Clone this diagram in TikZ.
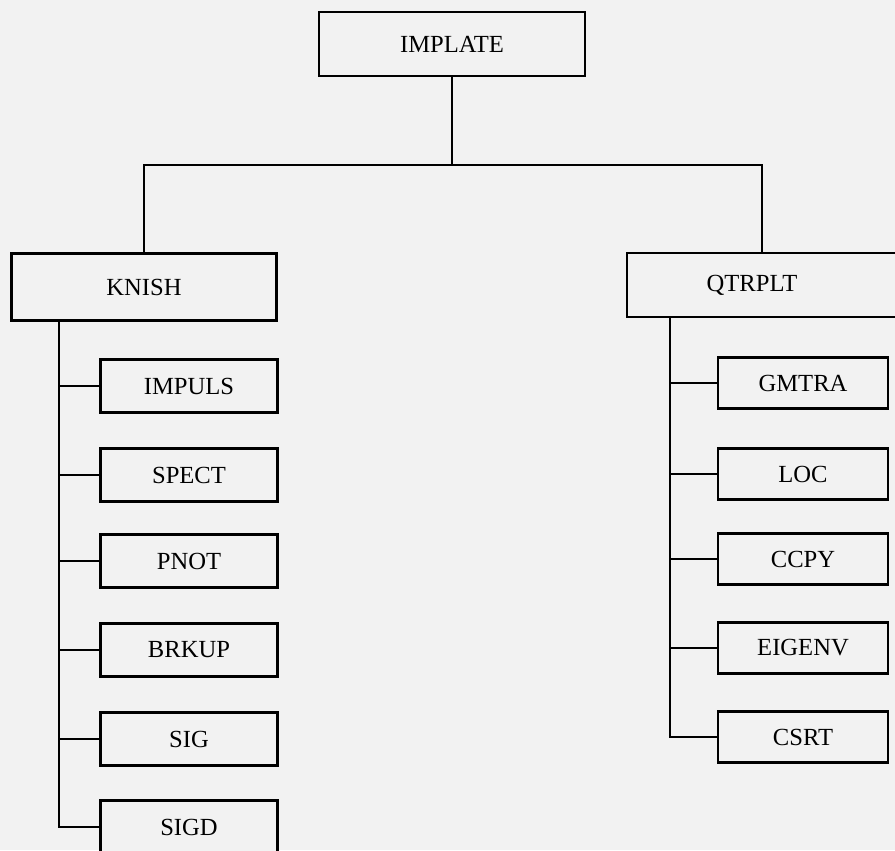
\documentclass[tikz,border=0pt]{standalone}
\usepackage{fontspec}
\setmainfont{Liberation Serif}
\usepackage{tikz}
\usetikzlibrary{positioning, calc}

\begin{document}
\begin{tikzpicture}[
    x=0.2mm, y=-0.2mm,
    font=\fontsize{14}{16}\selectfont,
    box/.style={draw, line width=1.6pt, fill=black!5, inner sep=0pt},
    topbox/.style={box, minimum width=5.32cm, minimum height=1.28cm},
    midbox/.style={box, minimum width=5.3cm, minimum height=1.34cm},
    leafbox/.style={box, minimum width=3.54cm, minimum height=1.06cm},
    rleafbox/.style={box, minimum width=3.4cm, minimum height=1.02cm},
    link/.style={line width=1.6pt}
]
% page
\fill[black!5] (0,0) rectangle (895,850);
\useasboundingbox (0,0) rectangle (895,850);

% top of the tree
\node[topbox] (implate) at (452,44) {IMPLATE};
\coordinate (split) at (452,165);

% left branch
\node[midbox] (knish) at (144,287) {KNISH};
\node[leafbox] (impuls) at (189,386) {IMPULS};
\node[leafbox] (spect) at (189,475) {SPECT};
\node[leafbox] (pnot) at (189,561) {PNOT};
\node[leafbox] (brkup) at (189,650) {BRKUP};
\node[leafbox] (sig) at (189,739) {SIG};
\node[leafbox] (sigd) at (189,827) {SIGD};
\coordinate (ltrunk) at (59,321);

% right branch
\node[box, minimum width=5.4cm, minimum height=1.28cm] (qtrplt) at (762,285) {};
\node (qtrpltlbl) at (752,285) {QTRPLT};
\node[rleafbox] (gmtra) at (803,383) {GMTRA};
\node[rleafbox] (loc) at (803,474) {LOC};
\node[rleafbox] (ccpy) at (803,559) {CCPY};
\node[rleafbox] (eigenv) at (803,648) {EIGENV};
\node[rleafbox] (csrt) at (803,737) {CSRT};
\coordinate (rtrunk) at (670,317);

% links
\draw[link] (implate.south) -- (split);
\draw[link] (knish.north) |- (split) -| (qtrplt.north);

\draw[link] (ltrunk) |- (sigd.west);
\foreach \n in {impuls, spect, pnot, brkup, sig}
  \draw[link] (\n.west) -- (\n.west -| ltrunk);

\draw[link] (rtrunk) |- (csrt.west);
\foreach \n in {gmtra, loc, ccpy, eigenv}
  \draw[link] (\n.west) -- (\n.west -| rtrunk);
\end{tikzpicture}
\end{document}
